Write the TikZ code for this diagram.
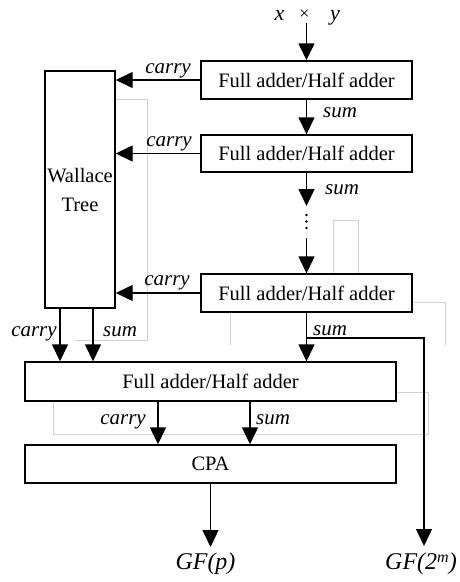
\documentclass[tikz,border=0pt]{standalone}
\usepackage{fontspec}
\setmainfont{Liberation Serif}
\usetikzlibrary{arrows.meta}
\tikzset{
  blk/.style={draw, line width=1.4pt, inner sep=0pt,
    font=\fontsize{20.5}{29}\selectfont},
  lab/.style={inner sep=0pt, anchor=base, font=\fontsize{21}{22}\selectfont\itshape},
  big/.style={inner sep=0pt, anchor=base, font=\fontsize{24}{26}\selectfont\itshape},
  arr/.style={line width=1.4pt, -{Triangle[length=17pt,width=16pt]}},
  wire/.style={line width=1.4pt},
  ghost/.style={draw=black!18, line width=0.8pt}
}
\begin{document}
\begin{tikzpicture}[x=1pt,y=-1pt]
\useasboundingbox (0,0) rectangle (460,582);

% faint guide lines behind the blocks
\draw[ghost] (115,99) -- (147,99) -- (147,340) -- (75,340);
\draw[ghost] (333,274) -- (333,220) -- (358,220) -- (358,274);
\draw[ghost] (230,313) -- (230,345);
\draw[ghost] (412,302) -- (445,302) -- (445,345);
\draw[ghost] (53,402) -- (53,434) -- (428,434) -- (428,392) -- (396,392);

% blocks
\node[blk, minimum width=211pt, minimum height=38pt] (b1) at (306.5,80) {Full adder/Half adder};
\node[blk, minimum width=211pt, minimum height=37pt] (b2) at (306.5,153.5) {Full adder/Half adder};
\node[blk, minimum width=211pt, minimum height=38pt] (b3) at (306.5,293) {Full adder/Half adder};
\node[blk, minimum width=70pt, minimum height=237pt, align=center] (wt) at (80,189.5) {Wallace\\Tree};
\node[blk, minimum width=371pt, minimum height=39pt] (b4) at (210.5,381.5) {Full adder/Half adder};
\node[blk, minimum width=371pt, minimum height=38pt] (cpa) at (210.5,464) {CPA};

% operands of the product
\node[lab, font=\fontsize{22}{24}\selectfont\itshape] (opx) at (279.5,20) {x};
\node[inner sep=0pt, anchor=base, font=\fontsize{18}{20}\selectfont] (opt) at (304.5,19) {×};
\node[lab, font=\fontsize{22}{24}\selectfont\itshape] (opy) at (335,20) {y};
\coordinate (top) at (306.5,23);

% results
\node[big] (gfp) at (205.5,569) {GF(p)};
\node[big] (gf2) at (421,569) {GF(2\raisebox{0.6ex}{\fontsize{16}{18}\selectfont m})};
\coordinate (pend) at (210.5,547);
\coordinate (mend) at (424,546);

% dots between the second and the last stage
\coordinate (d1) at (306.5,206);
\coordinate (d2) at (306.5,238);
\foreach \yy in {215,221.5,228} \fill (306.5,\yy) circle (1.4pt);

% vertical chain
\draw[arr] (top) -- (b1.north);
\draw[arr] (b1.south) -- (b2.north);
\draw[arr] (b2.south) -- (d1);
\draw[arr] (d2) -- (b3.north);
\draw[arr] (b3.south) -- (b3.south |- b4.north);
\draw[wire] (b3.south |- 0,338) -- (mend |- 0,338);
\draw[arr] (mend |- 0,337.3) -- (mend);

% carries into the Wallace tree
\draw[arr] (b1.west) -- (b1.west -| wt.east);
\draw[arr] (b2.west) -- (b2.west -| wt.east);
\draw[arr] (b3.west) -- (b3.west -| wt.east);

% Wallace tree outputs
\draw[arr] ([xshift=-20pt]wt.south) -- ([xshift=-20pt]wt.south |- b4.north);
\draw[arr] ([xshift=13pt]wt.south) -- ([xshift=13pt]wt.south |- b4.north);

% final stage into the CPA
\draw[arr] ([xshift=-52.5pt]b4.south) -- ([xshift=-52.5pt]b4.south |- cpa.north);
\draw[arr] ([xshift=39.5pt]b4.south) -- ([xshift=39.5pt]b4.south |- cpa.north);
\draw[arr] (cpa.south) -- (pend);

% labels
\node[lab] at (168,73) {carry};
\node[lab] at (169,146) {carry};
\node[lab] at (167,285) {carry};
\node[lab] at (340,117) {sum};
\node[lab] at (342,194) {sum};
\node[lab] at (330,335) {sum};
\node[lab] at (34,336) {carry};
\node[lab] at (120,336) {sum};
\node[lab] at (123,424) {carry};
\node[lab] at (273,424) {sum};
\end{tikzpicture}
\end{document}
